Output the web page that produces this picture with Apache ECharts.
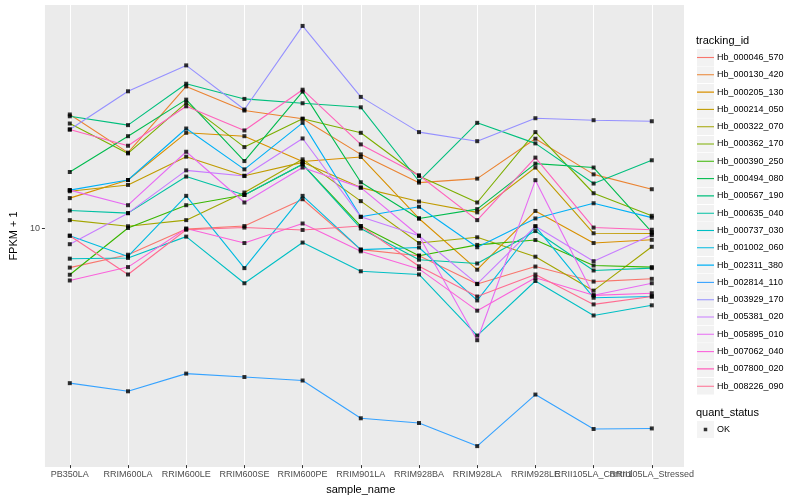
<!DOCTYPE html>
<html>
<head>
<meta charset="utf-8">
<script src="https://cdn.jsdelivr.net/npm/echarts@6/dist/echarts.min.js"></script>
<style>html,body{margin:0;padding:0;background:#fff;}#chart{width:800px;height:500px;}</style>
</head>
<body>
<div id="chart"></div>
<script>
const categories = ['PB350LA','RRIM600LA','RRIM600LE','RRIM600SE','RRIM600PE','RRIM901LA','RRIM928BA','RRIM928LA','RRIM928LE','RRII105LA_Control','RRII105LA_Stressed'];

const trackingIds = ['Hb_000046_570','Hb_000130_420','Hb_000205_130','Hb_000214_050','Hb_000322_070','Hb_000362_170','Hb_000390_250','Hb_000494_080','Hb_000567_190','Hb_000635_040','Hb_000737_030','Hb_001002_060','Hb_002311_380','Hb_002814_110','Hb_003929_170','Hb_005381_020','Hb_005895_010','Hb_007062_040','Hb_007800_020','Hb_008226_090'];

const colors = ['#F8766D','#EA8331','#D89000','#C09B00','#A3A500','#7CAE00','#39B600','#00BB4E','#00BF7D','#00C1A3','#00BFC4','#00BAE0','#00B0F6','#35A2FF','#9590FF','#C77CFF','#E76BF3','#FA62DB','#FF62BC','#FF6C91'];

// FPKM + 1 per sample
const hb_000046_570 = [8.31, 8.82, 9.93, 10.07, 11.40, 9.03, 8.78, 7.70, 8.35, 7.79, 7.89];
const hb_000130_420 = [16.87, 14.14, 19.21, 17.18, 16.54, 14.03, 12.31, 12.54, 15.08, 12.79, 11.94];
const hb_000205_130 = [11.46, 12.46, 15.50, 15.26, 13.57, 13.86, 10.43, 8.23, 10.80, 9.31, 9.45];
const hb_000214_050 = [11.83, 12.18, 13.88, 12.71, 13.52, 12.03, 11.28, 10.73, 13.20, 9.74, 9.73];
const hb_000322_070 = [10.35, 10.06, 10.35, 11.76, 13.71, 11.30, 9.31, 9.56, 8.74, 7.47, 9.15];
const hb_000362_170 = [16.18, 14.09, 17.80, 14.51, 16.54, 15.50, 12.69, 11.23, 15.55, 11.72, 10.56];
const hb_000390_250 = [8.04, 9.98, 11.09, 11.63, 13.40, 10.07, 8.78, 9.23, 9.44, 8.39, 8.33];
const hb_000494_080 = [12.93, 15.26, 18.07, 13.60, 18.75, 12.33, 10.43, 10.89, 13.44, 13.20, 9.79];
const hb_000567_190 = [16.73, 16.06, 19.45, 18.13, 17.77, 17.44, 12.39, 16.23, 14.76, 12.26, 13.65];
const hb_000635_040 = [10.82, 10.69, 12.66, 11.63, 13.40, 9.96, 8.62, 8.47, 9.84, 8.20, 8.29];
const hb_000737_030 = [8.66, 8.69, 9.59, 7.73, 9.33, 8.17, 8.05, 6.07, 7.81, 6.66, 6.98];
const hb_001002_060 = [9.63, 8.75, 11.58, 8.29, 11.58, 9.03, 9.12, 7.14, 10.06, 7.23, 7.27];
const hb_002311_380 = [11.89, 12.46, 15.81, 13.09, 16.23, 10.51, 11.01, 9.13, 10.43, 11.19, 10.47];
const hb_002814_110 = [4.87, 4.69, 5.09, 5.01, 4.93, 4.14, 4.05, 3.64, 4.62, 3.94, 3.95];
const hb_003929_170 = [15.74, 18.78, 21.17, 17.26, 25.41, 18.30, 15.55, 14.91, 16.58, 16.43, 16.35];
const hb_005381_020 = [9.26, 10.69, 13.03, 12.69, 15.10, 10.51, 9.63, 7.71, 10.06, 8.56, 9.66];
const hb_005895_010 = [11.89, 11.09, 14.20, 11.23, 13.20, 12.03, 9.63, 5.94, 12.45, 7.31, 7.73];
const hb_007062_040 = [7.83, 8.33, 9.96, 9.31, 10.19, 8.96, 8.26, 6.81, 7.93, 7.31, 7.38];
const hb_007800_020 = [15.74, 14.60, 17.52, 15.67, 18.92, 14.69, 12.74, 10.35, 13.82, 10.00, 9.90];
const hb_008226_090 = [9.63, 8.05, 9.90, 10.00, 9.89, 10.07, 8.36, 7.27, 8.05, 7.01, 7.27];

const yTicks = [10];
const yMin = 3.334, yMax = 27.99;

const seriesValues = [hb_000046_570, hb_000130_420, hb_000205_130, hb_000214_050, hb_000322_070, hb_000362_170, hb_000390_250, hb_000494_080, hb_000567_190, hb_000635_040, hb_000737_030, hb_001002_060, hb_002311_380, hb_002814_110, hb_003929_170, hb_005381_020, hb_005895_010, hb_007062_040, hb_007800_020, hb_008226_090];

const FONT = 'Liberation Sans, Arial, Helvetica, sans-serif';

function keyIcon(color) {
  const svg = '<svg xmlns="http://www.w3.org/2000/svg" width="34" height="34"><rect width="34" height="34" fill="#F2F2F2"/><line x1="0" y1="17" x2="34" y2="17" stroke="' + color + '" stroke-width="2.2"/></svg>';
  return 'image://data:image/svg+xml;charset=utf-8,' + encodeURIComponent(svg);
}
function pointIcon() {
  const svg = '<svg xmlns="http://www.w3.org/2000/svg" width="34" height="34"><rect width="34" height="34" fill="#F2F2F2"/><rect x="13.5" y="13.5" width="7" height="7" fill="#000"/></svg>';
  return 'image://data:image/svg+xml;charset=utf-8,' + encodeURIComponent(svg);
}

const lineSeries = trackingIds.map((id, k) => ({
  name: id,
  type: 'line',
  xAxisIndex: 1,
  yAxisIndex: 1,
  data: seriesValues[k],
  symbol: 'none',
  lineStyle: { color: colors[k], width: 1.1 },
  itemStyle: { color: colors[k] },
  emphasis: { disabled: true },
  z: 2
}));

const pointData = [];
seriesValues.forEach(vals => vals.forEach((v, i) => pointData.push([i, v])));

const option = {
  animation: false,
  backgroundColor: '#ffffff',
  title: [
    { text: 'tracking_id', left: 696, top: 35, padding: 0, textStyle: { fontFamily: FONT, fontSize: 11, fontWeight: 'normal', color: '#000' } },
    { text: 'quant_status', left: 696, top: 407, padding: 0, textStyle: { fontFamily: FONT, fontSize: 11, fontWeight: 'normal', color: '#000' } }
  ],
  grid: [
    { left: 35, right: 116, top: 5, bottom: 33, show: true, backgroundColor: '#EBEBEB', borderWidth: 0, containLabel: false },
    { left: 69.8, right: 148.2, top: 5, bottom: 33, show: false, containLabel: false }
  ],
  xAxis: [
    { type: 'value', gridIndex: 0, show: false, min: 0, max: 1 },
    {
      type: 'category', gridIndex: 1, data: categories, boundaryGap: false,
      axisLine: { show: false },
      axisTick: { show: true, length: 3, lineStyle: { color: '#333333' } },
      axisLabel: { interval: 0, hideOverlap: false, fontFamily: FONT, fontSize: 9, color: '#4D4D4D', margin: 5 },
      splitLine: { show: true, lineStyle: { color: '#FFFFFF', width: 1 } },
      name: 'sample_name', nameLocation: 'middle', nameGap: 16,
      nameTextStyle: { fontFamily: FONT, fontSize: 11, color: '#000' }
    }
  ],
  yAxis: [
    {
      type: 'log', gridIndex: 0, logBase: 10, min: yMin, max: yMax,
      axisLine: { show: false },
      axisTick: { show: true, length: 3, lineStyle: { color: '#333333' }, customValues: yTicks },
      axisLabel: { fontFamily: FONT, fontSize: 9, color: '#4D4D4D', margin: 5, customValues: yTicks, showMinLabel: false, showMaxLabel: false,
        formatter: v => (Math.abs(v - 10) < 0.01 ? '10' : '') },
      splitLine: { show: true, showMinLine: false, showMaxLine: false, lineStyle: { color: '#FFFFFF', width: 1 } },
      name: 'FPKM + 1', nameLocation: 'middle', nameGap: 18, nameRotate: 90,
      nameTextStyle: { fontFamily: FONT, fontSize: 11, color: '#000' }
    },
    { type: 'log', gridIndex: 1, logBase: 10, min: yMin, max: yMax, show: false, splitLine: { show: false } }
  ],
  legend: [
    {
      orient: 'vertical', left: 697, top: 49, padding: 0,
      itemWidth: 17, itemHeight: 17, itemGap: 0.3,
      selectedMode: false,
      textStyle: { fontFamily: FONT, fontSize: 9, color: '#000', padding: [0, 0, 0, -2] },
      data: trackingIds.map((id, k) => ({ name: id, icon: keyIcon(colors[k]) }))
    },
    {
      orient: 'vertical', left: 697, top: 421, padding: 0,
      itemWidth: 17, itemHeight: 17, selectedMode: false,
      textStyle: { fontFamily: FONT, fontSize: 9, color: '#000', padding: [0, 0, 0, -2] },
      data: [{ name: 'OK', icon: pointIcon() }]
    }
  ],
  series: lineSeries.concat([{
    name: 'OK', type: 'scatter', xAxisIndex: 1, yAxisIndex: 1,
    data: pointData, symbol: 'rect', symbolSize: 4,
    itemStyle: { color: '#000000' }, emphasis: { disabled: true }, z: 3
  }])
};

const chart = echarts.init(document.getElementById('chart'), null, { renderer: 'canvas' });
chart.setOption(option);
</script>
</body>
</html>
